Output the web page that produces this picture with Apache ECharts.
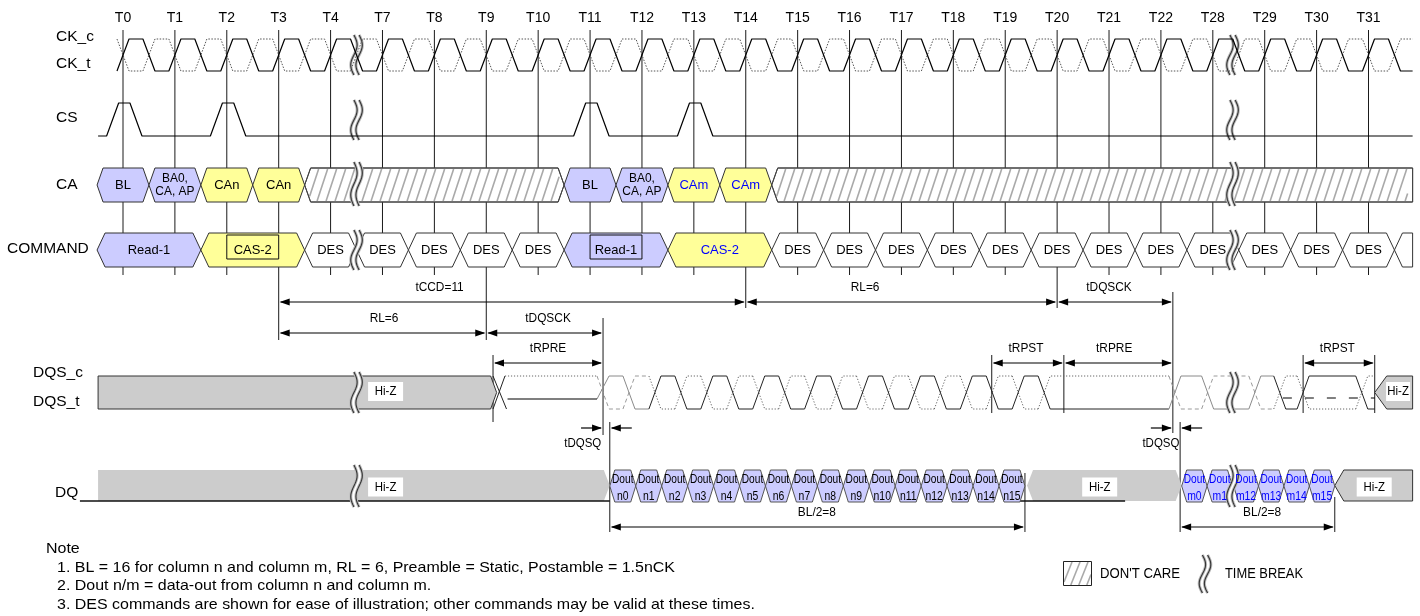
<!DOCTYPE html>
<html>
<head>
<meta charset="utf-8">
<title>Read timing diagram</title>
<script src="https://cdn.jsdelivr.net/npm/echarts@6.0.0/dist/echarts.min.js"></script>
<style>
html,body{margin:0;padding:0;background:#fff;}
#chart{width:1420px;height:616px;}
</style>
</head>
<body>
<div id="chart"></div>
<script>
// ================= DATA (time unit = one displayed clock slot, 0 = T0) =================
const ticks = ['T0','T1','T2','T3','T4','T7','T8','T9','T10','T11','T12','T13','T14','T15','T16','T17','T18','T19','T20','T21','T22','T28','T29','T30','T31'];
const rowNames = ['CK_c','CK_t','CS','CA','COMMAND','DQS_c','DQS_t','DQ'];
const timeBreaks = [4.5, 21.38];
const csHighAt = [0, 2, 9, 11];

const caLabels = ['BL','BA0,\nCA, AP','CAn','CAn','','BL','BA0,\nCA, AP','CAm','CAm',''];
const caKinds  = ['rd','rd','cas','cas','x','rd','rd','casm','casm','x'];
const caFrom   = [-0.5, 0.5, 1.5, 2.5, 3.5, 8.5, 9.5, 10.5, 11.5, 12.5];
const caTo     = [0.5, 1.5, 2.5, 3.5, 8.5, 9.5, 10.5, 11.5, 12.5, 24.85];

const cmdLabels = ['Read-1','CAS-2','DES','DES','DES','DES','DES','Read-1','CAS-2',
                   'DES','DES','DES','DES','DES','DES','DES','DES','DES','DES','DES','DES',''];
const cmdKinds  = ['rd','cas','des','des','des','des','des','rd','casm',
                   'des','des','des','des','des','des','des','des','des','des','des','des','des'];
const cmdFrom   = [-0.5, 1.5, 3.5, 4.5, 5.5, 6.5, 7.5, 8.5, 10.5, 12.5, 13.5, 14.5, 15.5, 16.5, 17.5, 18.5, 19.5, 20.5, 21.5, 22.5, 23.5, 24.5];
const cmdTo     = [1.5, 3.5, 4.5, 5.5, 6.5, 7.5, 8.5, 10.5, 12.5, 13.5, 14.5, 15.5, 16.5, 17.5, 18.5, 19.5, 20.5, 21.5, 22.5, 23.5, 24.5, 24.85];
const cmdMarkFrom = [2, 9];
const cmdMarkTo   = [3, 10];

const doutLabels = ['n0','n1','n2','n3','n4','n5','n6','n7','n8','n9','n10','n11','n12','n13','n14','n15',
                    'm0','m1','m12','m13','m14','m15'];
const doutFrom = [9.38, 9.88, 10.38, 10.88, 11.38, 11.88, 12.38, 12.88, 13.38, 13.88, 14.38, 14.88, 15.38, 15.88, 16.38, 16.88,
                  20.4, 20.89, 21.4, 21.88, 22.37, 22.86];
const doutTo   = [9.88, 10.38, 10.88, 11.38, 11.88, 12.38, 12.88, 13.38, 13.88, 14.38, 14.88, 15.38, 15.88, 16.38, 16.88, 17.38,
                  20.89, 21.38, 21.88, 22.37, 22.86, 23.35];

const hizRows  = ['dqs','dqs','dq','dq','dq'];
const hizFrom  = [-0.48, 24.12, -0.48, 17.42, 23.35];
const hizTo    = [7.2, 24.85, 9.38, 20.4, 24.85];
const hizText  = ['Hi-Z','Hi-Z','Hi-Z','Hi-Z','Hi-Z'];
const hizLabelAt = [5.06, 24.57, 5.06, 18.82, 24.11];

// DQS_t edges (alternating rise / fall, starting with a rise)
const dqsEdges = [9.25, 9.75, 10.25, 10.75, 11.25, 11.75, 12.25, 12.75, 13.25, 13.75, 14.25, 14.75, 15.25, 15.75, 16.25, 16.75, 17.25, 17.75,
                  20.27, 20.9, 21.81, 22.29, 22.74, 23.87];
const dqsDim   = [1,1,0,0,0,0,0,0,0,0,0,0,0,0,0,0,0,0, 1,1,1,0,0,0];
const dqsPreStart = 7.13;
const dqsEnd = 24.12;

const timingLabels  = ['tCCD=11','RL=6','tDQSCK','RL=6','tDQSCK','tRPRE','tRPST','tRPRE','tRPST','BL/2=8','BL/2=8','tDQSQ','tDQSQ'];
const timingFrom    = [3, 12, 18, 3, 7, 7.13, 16.74, 18.13, 22.74, 9.38, 20.37, 9.25, 20.23];
const timingTo      = [12, 18, 20.23, 7, 9.25, 9.25, 18.13, 20.23, 24.12, 17.38, 23.35, 9.38, 20.37];
const timingLabelAt = [6.1, 14.3, 19.0, 5.03, 8.19, 8.19, 17.4, 19.1, 23.4, 13.37, 21.95, 8.86, 20.0];

const guideAt = [3, 7, 12, 18, 9.25, 20.23, 7.13, 9.38, 20.37, 17.38, 23.35, 16.74, 18.13, 22.74, 24.12];
const dqBaseFrom = [-0.83, 17.23];
const dqBaseTo   = [9.38, 19.31];

const noteLines = [
  'Note',
  '1. BL = 16 for column n and column m, RL = 6, Preamble = Static, Postamble = 1.5nCK',
  '2. Dout n/m = data-out from column n and column m.',
  '3. DES commands are shown for ease of illustration; other commands may be valid at these times.'
];
const legendLabels = ["DON'T CARE", 'TIME BREAK'];

// ================= LAYOUT / STYLE =================
const PX_T0 = 123, PX_TLAST = 1368.5, W = 1420;   // pixel position of first / last tick
const Y = {
  tickLabel: 18, tickTop: 30, tickBot: 275,
  ckHi: 39, ckLo: 71, csHi: 103, csLo: 136,
  caTop: 168, caBot: 202, cmdTop: 233, cmdBot: 267, markTop: 235, markBot: 259,
  dqsHi: 376, dqsLo: 409, dqsPre: 399, dqTop: 470, dqBot: 502, dqBase: 501,
  dout1: 479, dout2: 496, dashY: 398
};
const rowLabelX = [56, 56, 56, 56, 7, 33, 33, 55];
const rowLabelY = [37, 64, 118, 185, 249, 373, 402, 493];
const breakRows = [[35,75],[100,140],[162,206],[230,270],[372,413],[465,507]];
const timingY     = [302,302,302,333,333,363,363,363,363,527,527,428,428];
const timingStyle = ['out','out','out','out','out','out','out','out','out','out','out','in','in'];
const guideY1 = [275, 275, 275, 275, 318, 292, 355, 422, 422, 473, 497, 355, 355, 355, 355];
const guideY2 = [340, 340, 308, 308, 435, 433, 422, 532, 532, 532, 532, 413, 413, 413, 413];
const hizBorder = [1,1,0,0,1];
const dashRange = [22.35, 24.12];
const EW = 0.116;         // half edge width (slots)
const FONT = '"Liberation Sans", Arial, Helvetica, sans-serif';
const BLUE = '#0000ff';
const FILL = {rd:'#ccccff', cas:'#ffff99', casm:'#ffff99', x:'#ffffff', des:'#ffffff'};
const slotPx = (PX_TLAST - PX_T0) / (ticks.length - 1);
const xMin = -PX_T0 / slotPx, xMax = (W - PX_T0) / slotPx;

// ================= helpers =================
const mctx = document.createElement('canvas').getContext('2d');
function tw(text, size){ mctx.font = size + 'px ' + FONT; return mctx.measureText(text).width; }
function ln(x1,y1,x2,y2,color,w,dash){
  return {type:'line', shape:{x1,y1,x2,y2}, style:{stroke:color, lineWidth:w, lineDash:dash||null, fill:null}};
}
function txt(x,y,text,size,opt){
  opt = opt || {};
  const st = {text, font: size+'px '+FONT, fill: opt.fill||'#000', align: opt.align||'center', verticalAlign:'middle'};
  if (opt.lh) st.lineHeight = opt.lh;
  return {type:'text', x, y, scaleX: opt.sx||1, scaleY: 1, style: st, z2: 20};
}
function busPts(x0,x1,yt,yb,d,flatL,flatR){
  const ym=(yt+yb)/2, p=[];
  if (flatL) p.push([x0,yb],[x0,yt]); else p.push([x0,ym],[x0+d,yt]);
  if (flatR) p.push([x1,yt],[x1,yb]); else p.push([x1-d,yt],[x1,ym],[x1-d,yb]);
  if (!flatL) p.push([x0+d,yb]);
  return p;
}
function hatch(xa,xb,ya,yb,sp,r){
  const H=yb-ya, els=[];
  for (let s = xa - r*H; s < xb; s += sp){
    const t0 = Math.max(0,(xa-s)/r), t1 = Math.min(H,(xb-s)/r);
    if (t1 <= t0) continue;
    els.push(ln(s+r*t0, yb-t0, s+r*t1, yb-t1, '#a9a9a9', 1.6));
  }
  return els;
}
function breakSym(cx,y0,y1){
  const A=3.2, off=2.6, N=20, c1=[], c2=[];
  for (let k=0;k<=N;k++){
    const t=k/N, y=y0+(y1-y0)*t, dx=A*Math.sin(2*Math.PI*t);
    c1.push([cx-off+dx,y]); c2.push([cx+off+dx,y]);
  }
  return [
    {type:'polygon', shape:{points:c1.concat(c2.slice().reverse())}, style:{fill:'#fff', stroke:'#fff', lineWidth:2}},
    {type:'polyline', shape:{points:c1}, style:{stroke:'#bbb', lineWidth:3, fill:null}},
    {type:'polyline', shape:{points:c2}, style:{stroke:'#bbb', lineWidth:3, fill:null}},
    {type:'polyline', shape:{points:c1}, style:{stroke:'#333', lineWidth:1.1, fill:null}},
    {type:'polyline', shape:{points:c2}, style:{stroke:'#333', lineWidth:1.1, fill:null}}
  ];
}
function wave(edges, hi, lo, startHigh, x0, x1){
  let lvl = startHigh; const pts = [[x0, lvl?hi:lo]];
  edges.forEach(e => { pts.push([e-EW, lvl?hi:lo]); lvl=!lvl; pts.push([e+EW, lvl?hi:lo]); });
  pts.push([x1, lvl?hi:lo]);
  return pts;
}
function custom(name, data, renderItem){
  return {type:'custom', name, data, renderItem, clip:false, silent:true, animation:false};
}

// ================= waveform point lists (derived from the data above) =================
const ckEdges = [];
ticks.forEach((t,i)=>{ ckEdges.push(i, i+0.5); });
const ckT = wave(ckEdges, Y.ckHi, Y.ckLo, false, -EW, 24.85);
const ckC = wave(ckEdges, Y.ckHi, Y.ckLo, true, -EW, 24.85);
const csEdges = [];
csHighAt.forEach(p => { csEdges.push(p-0.2, p+0.25); });
const csWave = wave(csEdges, Y.csHi, Y.csLo, false, -0.48, 24.85);

// ================= series =================
const series = [];

// tick lines + labels
series.push(custom('ticks', ticks.map((t,i)=>[i]), (p, api) => {
  const i = api.value(0);
  const a = api.coord([i, Y.tickTop]), b = api.coord([i, Y.tickBot]), c = api.coord([i, Y.tickLabel]);
  return {type:'group', children:[ln(a[0],a[1],b[0],b[1],'#1a1a1a',1), txt(c[0],c[1],ticks[i],14)]};
}));

// extension guide lines
series.push(custom('guides', guideAt.map((g,i)=>[g,i]), (p, api) => {
  const i = api.value(1);
  const a = api.coord([api.value(0), guideY1[i]]), b = api.coord([api.value(0), guideY2[i]]);
  return ln(a[0],a[1],b[0],b[1],'#1a1a1a',1);
}));

// clocks and CS
series.push({type:'line', name:'CK_c', data:ckC, symbol:'none', clip:false, silent:true, animation:false,
  lineStyle:{color:'#555', width:1, type:[1.5,1.5]}});
series.push({type:'line', name:'CK_t', data:ckT, symbol:'none', clip:false, silent:true, animation:false,
  lineStyle:{color:'#000', width:1.2}});
series.push({type:'line', name:'CS', data:csWave, symbol:'none', clip:false, silent:true, animation:false,
  lineStyle:{color:'#000', width:1.2}});

// CA bus
series.push(custom('CA', caFrom.map((f,i)=>[f, caTo[i], i]), (p, api) => {
  const i = api.value(2), kind = caKinds[i];
  const a = api.coord([api.value(0), Y.caTop]), b = api.coord([api.value(1), Y.caBot]);
  const x0=a[0], x1=b[0], yt=a[1], yb=b[1];
  const pts = busPts(x0,x1,yt,yb,6,false,api.value(1)>=24.8);
  const ch = [{type:'polygon', shape:{points:pts}, style:{fill:FILL[kind], stroke:'#333', lineWidth:1}}];
  if (kind === 'x'){
    hatch(x0+5, x1-5, yt+1, yb-1, 9, 0.33).forEach(e=>ch.push(e));
    ch.push({type:'polygon', shape:{points:pts}, style:{fill:null, stroke:'#444', lineWidth:1}});
  }
  if (caLabels[i]) ch.push(txt((x0+x1)/2, (yt+yb)/2, caLabels[i], 13,
    {fill: kind==='casm'?BLUE:'#000', lh:13.5, sx: caLabels[i].indexOf('\n')>=0?0.92:1}));
  return {type:'group', children:ch};
}));

// COMMAND bus
series.push(custom('COMMAND', cmdFrom.map((f,i)=>[f, cmdTo[i], i]), (p, api) => {
  const i = api.value(2), kind = cmdKinds[i];
  const a = api.coord([api.value(0), Y.cmdTop]), b = api.coord([api.value(1), Y.cmdBot]);
  const x0=a[0], x1=b[0], yt=a[1], yb=b[1];
  const ch = [{type:'polygon', shape:{points:busPts(x0,x1,yt,yb,8,false,api.value(1)>=24.8)}, style:{fill:FILL[kind], stroke:'#333', lineWidth:1}}];
  if (cmdLabels[i]) ch.push(txt((x0+x1)/2, (yt+yb)/2, cmdLabels[i], 13.5, {fill: kind==='casm'?BLUE:'#000', sx:0.96}));
  return {type:'group', children:ch};
}));
series.push(custom('cmdMarks', cmdMarkFrom.map((f,i)=>[f, cmdMarkTo[i]]), (p, api) => {
  const a = api.coord([api.value(0), Y.markTop]), b = api.coord([api.value(1), Y.markBot]);
  return {type:'rect', shape:{x:a[0], y:a[1], width:b[0]-a[0], height:b[1]-a[1]}, style:{fill:null, stroke:'#111', lineWidth:1}};
}));

// Hi-Z bars (DQS and DQ)
series.push(custom('hiz', hizFrom.map((f,i)=>[f, hizTo[i], i]), (p, api) => {
  const i = api.value(2), dqs = hizRows[i]==='dqs';
  const top = dqs?Y.dqsHi:Y.dqTop, bot = dqs?Y.dqsLo:Y.dqBase;
  const a = api.coord([api.value(0), top]), b = api.coord([api.value(1), bot]);
  const flatL = api.value(0) <= -0.4, flatR = api.value(1) >= 24.8;
  const d = i===1 ? 12 : (i===4 ? 9 : 6);
  const pts = busPts(a[0], b[0], a[1], b[1], d, flatL, flatR);
  return {type:'polygon', shape:{points:pts}, style:{fill:'#cccccc', stroke: hizBorder[i]?'#333':null, lineWidth:1}};
}));

// DQ baseline
series.push(custom('dqBase', dqBaseFrom.map((f,i)=>[f, dqBaseTo[i]]), (p, api) => {
  const a = api.coord([api.value(0), Y.dqBase]), b = api.coord([api.value(1), Y.dqBase]);
  return ln(a[0],a[1],b[0],b[1],'#111',1.6);
}));

// DQS waveform
series.push(custom('DQS', dqsEdges.map((e,i)=>[e, i<dqsEdges.length-1?dqsEdges[i+1]:dqsEnd, i]), (p, api) => {
  const i = api.value(2), e = api.value(0), nx = api.value(1);
  const rise = i%2===0, last = i===dqsEdges.length-1;
  const hi=Y.dqsHi, lo=Y.dqsLo;
  const fromY = i===0 ? Y.dqsPre : (rise?lo:hi), toY = rise?hi:lo;
  const cFrom = rise?hi:lo, cTo = rise?lo:hi;
  const endX = last ? nx : nx-EW;
  const C = q => api.coord(q);
  const sP = [C([e-EW,fromY]), C([e+EW,toY]), C([endX,toY])];
  const cP = [C([e-EW,cFrom]), C([e+EW,cTo]), C([endX,cTo])];
  const dim = dqsDim[i];
  const ch = [
    {type:'polyline', shape:{points:cP}, style:{stroke: dim?'#9a9a9a':'#666', lineWidth:1, lineDash: dim?[4,3]:[1.2,1.8], fill:null}},
    {type:'polyline', shape:{points:sP}, style:{stroke: dim?'#8a8a8a':'#222', lineWidth:1, fill:null}}
  ];
  if (i===0){
    const t0 = dqsPreStart;
    const a1=C([t0,hi]), a2=C([t0+0.26,lo]), b1=C([t0,lo]), b2=C([t0+0.23,hi]);
    ch.push(ln(a1[0],a1[1],a2[0],a2[1],'#222',1));
    ch.push(ln(b1[0],b1[1],b2[0],b2[1],'#222',1));
    const d1=C([t0+0.23,hi]), d2=C([e-EW,hi]);
    ch.push(ln(d1[0],d1[1],d2[0],d2[1],'#666',1,[1.2,1.8]));
    const s1=C([t0+0.28,Y.dqsPre]), s2=C([e-EW,Y.dqsPre]);
    ch.push(ln(s1[0],s1[1],s2[0],s2[1],'#000',1.2));
  }
  return {type:'group', children:ch};
}));
series.push(custom('dqsDash', [dashRange], (p, api) => {
  const a = api.coord([api.value(0), Y.dashY]), b = api.coord([api.value(1), Y.dashY]);
  return ln(a[0],a[1],b[0],b[1],'#000',1,[9,13]);
}));

// Dout data eyes
series.push(custom('Dout', doutFrom.map((f,i)=>[f, doutTo[i], i]), (p, api) => {
  const i = api.value(2), m = doutLabels[i][0]==='m';
  const a = api.coord([api.value(0), Y.dqTop]), b = api.coord([api.value(1), Y.dqBot]);
  const x0=a[0], x1=b[0], cx=(x0+x1)/2;
  const col = m?BLUE:'#000';
  return {type:'group', children:[
    {type:'polygon', shape:{points:busPts(x0,x1,a[1],b[1],5,false,false)}, style:{fill:'#ccccff', stroke:'#555', lineWidth:1}},
    txt(cx, Y.dout1, 'Dout', 13, {fill:col, sx:0.78}),
    txt(cx, Y.dout2, doutLabels[i], 13, {fill:col, sx:0.8})
  ]};
}));

// Hi-Z labels
series.push(custom('hizLabels', hizLabelAt.map((x,i)=>[x,i]), (p, api) => {
  const i = api.value(1), dqs = hizRows[i]==='dqs';
  const yc = dqs ? 391.5 : 487;
  const c = api.coord([api.value(0), yc]);
  const w = i===1 ? 24 : 35, h = 19;
  return {type:'group', children:[
    {type:'rect', shape:{x:c[0]-w/2, y:c[1]-h/2, width:w, height:h}, style:{fill:'#fff', stroke:null}},
    txt(c[0], c[1], hizText[i], 13, {sx:0.88})
  ]};
}));

// timing annotations
series.push(custom('timing', timingFrom.map((f,i)=>[f, timingTo[i], i]), (p, api) => {
  const i = api.value(2), y = timingY[i];
  const a = api.coord([api.value(0), y]), b = api.coord([api.value(1), y]);
  const L = api.coord([timingLabelAt[i], y]);
  const ch = [];
  const head = (x, dir) => ({type:'polygon', shape:{points:[[x,y],[x-dir*10,y-3.5],[x-dir*10,y+3.5]]}, style:{fill:'#000', stroke:null}});
  if (timingStyle[i]==='out'){
    ch.push(ln(a[0]+2,y,b[0]-2,y,'#000',1.2));
    ch.push(head(a[0]+1,-1)); ch.push(head(b[0]-1,1));
    ch.push(txt(L[0], y-15, timingLabels[i], 13.5, {sx:0.88}));
  } else {
    ch.push(ln(a[0]-22,y,a[0]-2,y,'#000',1.2)); ch.push(head(a[0]-1,1));
    ch.push(ln(b[0]+22,y,b[0]+2,y,'#000',1.2)); ch.push(head(b[0]+1,-1));
    ch.push(txt(L[0], y+15, timingLabels[i], 13.5, {sx:0.85}));
  }
  return {type:'group', children:ch};
}));

// time breaks
const breakData = [];
timeBreaks.forEach(b => breakRows.forEach((r,ri) => breakData.push([b, ri])));
series.push(custom('breaks', breakData, (p, api) => {
  const r = breakRows[api.value(1)];
  const a = api.coord([api.value(0), r[0]]), b = api.coord([api.value(0), r[1]]);
  return {type:'group', children: breakSym(a[0], a[1], b[1])};
}));

// ================= graphic: row labels, notes, legend =================
const graphic = [];
rowNames.forEach((n,i) => graphic.push(txt(rowLabelX[i], rowLabelY[i], n, 15.5, {align:'left'})));
const noteScale = 618 / tw(noteLines[1], 14.5);
noteLines.forEach((t,i) => graphic.push(txt(i===0?46:57, 549 + i*18.7, t, 14.5, {align:'left', sx: noteScale})));
const lg = [{type:'rect', shape:{x:1063, y:561, width:29, height:25}, style:{fill:'#fff', stroke:null}}];
hatch(1064, 1091, 562, 585, 8, 0.4).forEach(e => lg.push(e));
lg.push({type:'rect', shape:{x:1063.5, y:561.5, width:28, height:24}, style:{fill:null, stroke:'#222', lineWidth:1}});
lg.push(txt(1100, 574, legendLabels[0], 14, {align:'left', sx: 80/tw(legendLabels[0],14)}));
breakSym(1205, 555, 593).forEach(e => lg.push(e));
lg.push(txt(1225, 574, legendLabels[1], 14, {align:'left', sx: 78/tw(legendLabels[1],14)}));
graphic.push({type:'group', children: lg});

const chart = echarts.init(document.getElementById('chart'), null, {renderer:'canvas'});
chart.setOption({
  animation: false,
  backgroundColor: '#fff',
  grid: {left: 0, top: 0, width: W, height: 616},
  xAxis: {type:'value', min:xMin, max:xMax, show:false},
  yAxis: {type:'value', min:0, max:616, inverse:true, show:false},
  series: series,
  graphic: graphic
});
</script>
</body>
</html>
